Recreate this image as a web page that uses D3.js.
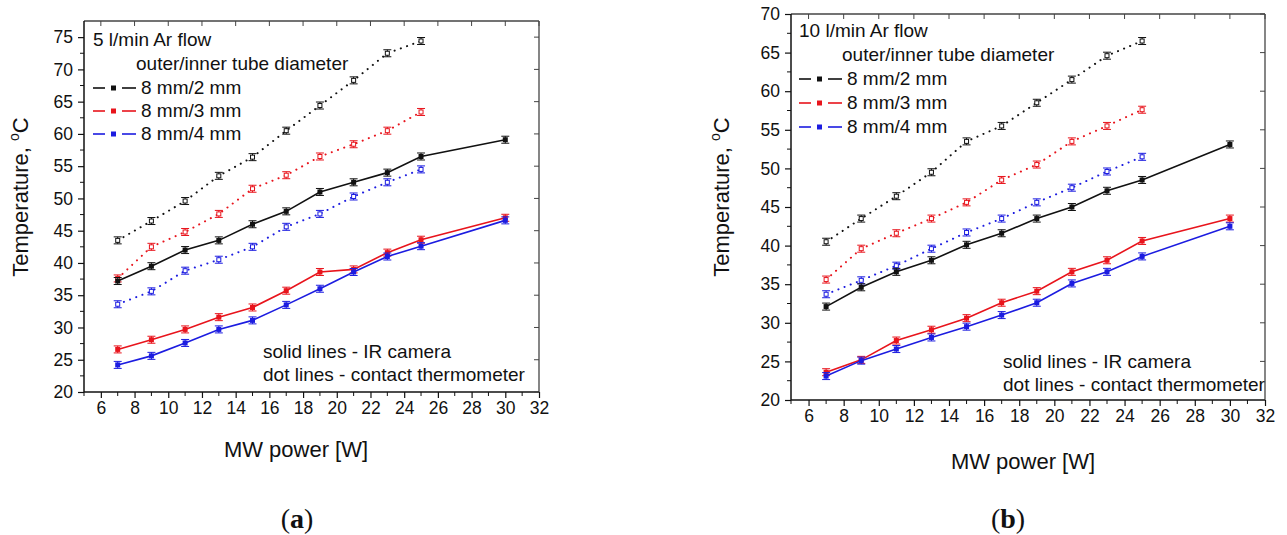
<!DOCTYPE html>
<html lang="en">
<head>
<meta charset="utf-8">
<script src="https://d3js.org/d3.v7.min.js"></script>
<style>
  body { margin: 0; background: #fff; }
  svg text { font-family: Arial, "Liberation Sans", sans-serif; fill: #111; }
  .caption text, text.caption { font-family: "Liberation Serif", "DejaVu Serif", serif; }
</style>
</head>
<body>
<div id="chart"></div>
<script>
// MW power values (solid lines go to 30 W, dotted stop at 25 W)
const power = [7, 9, 11, 13, 15, 17, 19, 21, 23, 25, 30];
const powerDot = [7, 9, 11, 13, 15, 17, 19, 21, 23, 25];
const xTicks = [6, 8, 10, 12, 14, 16, 18, 20, 22, 24, 26, 28, 30, 32];
const seriesNames = ["8 mm/2 mm", "8 mm/3 mm", "8 mm/4 mm"];
const seriesColors = ["#111111", "#e8141c", "#1c1ce0"];

// panel (a) 5 l/min
const aIR_2mm = [37.2, 39.5, 42, 43.5, 46, 48, 51, 52.5, 54, 56.5, 59.1];
const aIR_3mm = [26.6, 28.1, 29.7, 31.6, 33.1, 35.7, 38.6, 39, 41.6, 43.6, 47];
const aIR_4mm = [24.2, 25.6, 27.6, 29.7, 31.1, 33.5, 36, 38.6, 41, 42.6, 46.6];
const aTC_2mm = [43.5, 46.5, 49.6, 53.5, 56.4, 60.5, 64.4, 68.3, 72.5, 74.4];
const aTC_3mm = [37.6, 42.5, 44.8, 47.6, 51.5, 53.6, 56.5, 58.4, 60.5, 63.4];
const aTC_4mm = [33.6, 35.6, 38.8, 40.5, 42.5, 45.6, 47.6, 50.3, 52.5, 54.5];
const aYTicks = [20, 25, 30, 35, 40, 45, 50, 55, 60, 65, 70, 75];

// panel (b) 10 l/min
const bIR_2mm = [32.1, 34.6, 36.6, 38.1, 40.1, 41.6, 43.5, 45, 47.1, 48.5, 53.1];
const bIR_3mm = [23.6, 25.2, 27.7, 29.1, 30.6, 32.6, 34.1, 36.6, 38.1, 40.6, 43.5];
const bIR_4mm = [23.1, 25.1, 26.6, 28.1, 29.5, 31, 32.6, 35.1, 36.6, 38.6, 42.5];
const bTC_2mm = [40.5, 43.5, 46.4, 49.5, 53.5, 55.5, 58.5, 61.5, 64.6, 66.5];
const bTC_3mm = [35.6, 39.6, 41.6, 43.5, 45.6, 48.5, 50.5, 53.5, 55.5, 57.6];
const bTC_4mm = [33.7, 35.5, 37.4, 39.6, 41.7, 43.5, 45.6, 47.5, 49.6, 51.5];
const bYTicks = [20, 25, 30, 35, 40, 45, 50, 55, 60, 65, 70];

const svg = d3.select("#chart").append("svg")
    .attr("width", 1287)
    .attr("height", 535);

function drawPanel(p) {
    const x = d3.scaleLinear().domain([5, 32]).range([p.left, p.right]);
    const y = d3.scaleLinear().domain(p.yDomain).range([p.bottom, p.top]);
    const g = svg.append("g");

    // frame (top + right lighter)
    g.append("line").attr("x1", p.left).attr("x2", p.right).attr("y1", p.top).attr("y2", p.top)
        .attr("stroke", "#444").attr("stroke-width", 1.3);
    g.append("line").attr("x1", p.right).attr("x2", p.right).attr("y1", p.top).attr("y2", p.bottom)
        .attr("stroke", "#444").attr("stroke-width", 1.3);

    // bottom axis, major outward + minor ticks
    const bx = g.append("g").attr("transform", `translate(0,${p.bottom})`)
        .call(d3.axisBottom(x).tickValues(xTicks).tickSize(6).tickPadding(4).tickSizeOuter(0));
    bx.append("g").selectAll("line").data(d3.range(5, 33, 2)).join("line")
        .attr("x1", d => x(d)).attr("x2", d => x(d)).attr("y1", 0).attr("y2", 4)
        .attr("stroke", "#111");
    // left axis
    const ly = g.append("g").attr("transform", `translate(${p.left},0)`)
        .call(d3.axisLeft(y).tickValues(p.yTicks).tickSize(6).tickPadding(5).tickSizeOuter(0));
    ly.append("g").selectAll("line").data(p.yTicks.map(v => v + 2.5).filter(v => v < p.yDomain[1]))
        .join("line")
        .attr("x1", 0).attr("x2", -4).attr("y1", d => y(d)).attr("y2", d => y(d))
        .attr("stroke", "#111");
    [bx, ly].forEach(a => {
        a.select(".domain").attr("stroke", "#111").attr("stroke-width", 1.5);
        a.selectAll(".tick line").attr("stroke", "#111").attr("stroke-width", 1.2);
        a.selectAll(".tick text").style("font-size", "17.5px").attr("fill", "#111");
    });
    bx.select(".domain").attr("d", `M${p.left},0H${p.right}`);
    ly.select(".domain").attr("d", `M0,${p.bottom}V${p.top}`);

    // mirrored inward ticks on top and right
    g.append("g").selectAll("line").data(xTicks).join("line")
        .attr("x1", d => x(d)).attr("x2", d => x(d)).attr("y1", p.top).attr("y2", p.top + 5)
        .attr("stroke", "#444");
    g.append("g").selectAll("line").data(p.yTicks).join("line")
        .attr("x1", p.right).attr("x2", p.right - 5).attr("y1", d => y(d)).attr("y2", d => y(d))
        .attr("stroke", "#444");

    // axis titles
    const yt = g.append("text")
        .attr("transform", `translate(${p.yTitleX},197) rotate(-90)`)
        .attr("text-anchor", "middle")
        .style("font-size", "22px");
    yt.append("tspan").text("Temperature, ");
    yt.append("tspan").attr("dy", -9).style("font-size", "14px").text("o");
    yt.append("tspan").attr("dy", 9).text("C");

    g.append("text")
        .attr("x", p.xTitleX).attr("y", p.xTitleY)
        .attr("text-anchor", "middle")
        .style("font-size", "22px")
        .text("MW power [W]");

    const line = d3.line().x(d => x(d[0])).y(d => y(d[1]));

    // dotted lines (contact thermometer)
    p.tc.forEach((vals, i) => {
        const pts = powerDot.map((pw, j) => [pw, vals[j]]);
        g.append("path").datum(pts)
            .attr("d", line).attr("fill", "none")
            .attr("stroke", seriesColors[i]).attr("stroke-width", 2)
            .attr("stroke-linecap", "round")
            .attr("stroke-dasharray", "0.1 6.5");
        const m = g.append("g").selectAll("g").data(pts).join("g")
            .attr("transform", d => `translate(${x(d[0])},${y(d[1])})`)
            .attr("stroke", seriesColors[i]).attr("fill", "none").attr("stroke-width", 1);
        m.append("path").attr("d", "M-4,-3.5H4M0,-3.5V3.5M-4,3.5H4");
        m.append("rect").attr("x", -2).attr("y", -2).attr("width", 4).attr("height", 4).attr("fill", "#fff");
    });

    // solid lines (IR camera)
    p.ir.forEach((vals, i) => {
        const pts = power.map((pw, j) => [pw, vals[j]]);
        g.append("path").datum(pts)
            .attr("d", line).attr("fill", "none")
            .attr("stroke", seriesColors[i]).attr("stroke-width", 1.6);
        const m = g.append("g").selectAll("g").data(pts).join("g")
            .attr("transform", d => `translate(${x(d[0])},${y(d[1])})`);
        m.append("path").attr("d", "M-4,-3.5H4M0,-3.5V3.5M-4,3.5H4")
            .attr("stroke", seriesColors[i]).attr("stroke-width", 1).attr("fill", "none");
        m.append("rect").attr("x", -2.5).attr("y", -2.5).attr("width", 5).attr("height", 5)
            .attr("fill", seriesColors[i]);
    });

    // legend
    const lg = g.append("g").style("font-size", "19px");
    lg.append("text").attr("x", p.lgX).attr("y", p.lgY0).text(p.flow);
    lg.append("text").attr("x", p.lgX + 43).attr("y", p.lgY0 + 24).text("outer/inner tube diameter");
    seriesNames.forEach((name, i) => {
        const yy = p.lgY0 + 48 + i * p.lgStep;
        lg.append("line").attr("x1", p.lgX).attr("x2", p.lgX + 12).attr("y1", yy - 6).attr("y2", yy - 6)
            .attr("stroke", seriesColors[i]).attr("stroke-width", 1.6);
        lg.append("rect").attr("x", p.lgX + 18).attr("y", yy - 8.5).attr("width", 5).attr("height", 5)
            .attr("fill", seriesColors[i]);
        lg.append("line").attr("x1", p.lgX + 29).attr("x2", p.lgX + 43).attr("y1", yy - 6).attr("y2", yy - 6)
            .attr("stroke", seriesColors[i]).attr("stroke-width", 1.6);
        lg.append("text").attr("x", p.lgX + 48).attr("y", yy).text(name);
    });

    // notes
    g.append("text").attr("x", p.noteX).attr("y", p.noteY).style("font-size", "19px")
        .text("solid lines - IR camera");
    g.append("text").attr("x", p.noteX).attr("y", p.noteY + 23).style("font-size", "19px")
        .text("dot lines - contact thermometer");

    // caption
    const cap = g.append("text").attr("class", "caption")
        .attr("x", p.capX).attr("y", 528).attr("text-anchor", "middle")
        .style("font-size", "28px");
    cap.append("tspan").text("(");
    cap.append("tspan").style("font-weight", "bold").text(p.capLetter);
    cap.append("tspan").text(")");
}

drawPanel({
    left: 84, right: 539, top: 21, bottom: 392,
    yDomain: [20, 77.5], yTicks: aYTicks,
    ir: [aIR_2mm, aIR_3mm, aIR_4mm], tc: [aTC_2mm, aTC_3mm, aTC_4mm],
    flow: "5 l/min Ar flow",
    lgX: 93, lgY0: 46, lgStep: 23,
    noteX: 263, noteY: 358,
    yTitleX: 28, xTitleX: 296, xTitleY: 457,
    capX: 297, capLetter: "a"
});

drawPanel({
    left: 791, right: 1265, top: 14, bottom: 400,
    yDomain: [20, 70], yTicks: bYTicks,
    ir: [bIR_2mm, bIR_3mm, bIR_4mm], tc: [bTC_2mm, bTC_3mm, bTC_4mm],
    flow: "10 l/min Ar flow",
    lgX: 799, lgY0: 37, lgStep: 24,
    noteX: 1003, noteY: 368,
    yTitleX: 729, xTitleX: 1023, xTitleY: 469,
    capX: 1008, capLetter: "b"
});
</script>
</body>
</html>
